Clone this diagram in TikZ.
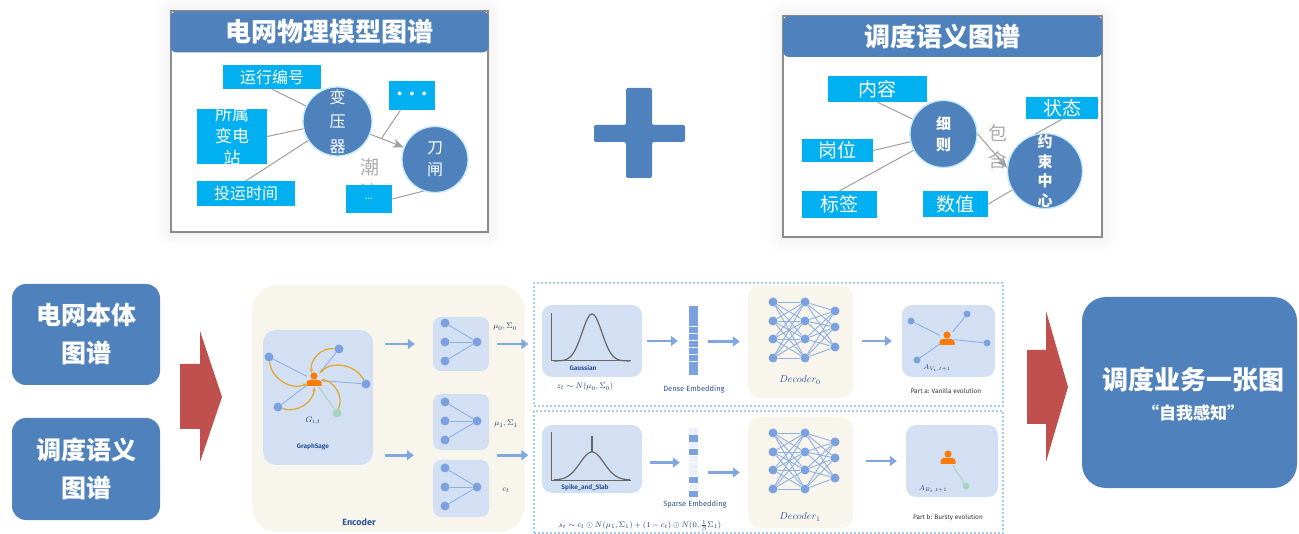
\documentclass[tikz,border=0pt]{standalone}
\usepackage{amsmath,amssymb}
\usepackage{fontspec}
\usetikzlibrary{positioning, arrows.meta, calc, shadows.blur}

\newfontfamily\cjk{Noto Sans CJK SC}
\setsansfont{Fira Sans}

\definecolor{panelblue}{HTML}{4F81BD}
\definecolor{tagcyan}{HTML}{00B0F0}
\definecolor{arrowred}{HTML}{C0504D}
\definecolor{beige}{HTML}{F8F5EC}
\definecolor{lightbox}{HTML}{D3E0F4}
\definecolor{dotblue}{HTML}{7BA2DE}
\definecolor{flowblue}{HTML}{80A7E1}
\definecolor{userorange}{HTML}{FA7A0A}
\definecolor{gold}{HTML}{E3A935}
\definecolor{mint}{HTML}{A6D3BC}
\definecolor{dashblue}{HTML}{A7CDEE}
\definecolor{labelblue}{HTML}{2E5597}
\definecolor{framegray}{HTML}{8C8C8C}

\tikzset{
  person/.pic={
    \fill[userorange] (0,-4) circle (3.6pt);
    \fill[userorange] (-7.5,6) [rounded corners=3pt] -- (-7.5,0) -- (7.5,0) [sharp corners] -- (7.5,6) -- cycle;
  }
}

\begin{document}
\begin{tikzpicture}[x=1pt, y=-1pt,
    titlebar/.style={fill=panelblue, rounded corners=6pt, text=white, inner sep=0pt,
      minimum height=41pt, font=\cjk\bfseries\fontsize{26}{28}\selectfont},
    frame/.style={draw=framegray, line width=1.1pt, fill=white,
      blur shadow={shadow xshift=0pt, shadow yshift=0pt, shadow blur radius=16pt, shadow opacity=10}},
    tag/.style={fill=tagcyan, text=white, inner sep=0pt, font=\cjk\fontsize{16}{18}\selectfont},
    tagb/.style={tag, font=\cjk\fontsize{19}{21}\selectfont},
    hub/.style={circle, fill=panelblue, draw=cyan!25!white, line width=1.3pt, text=white,
      inner sep=0pt, align=center, font=\cjk\fontsize{16}{24.5}\selectfont},
    link/.style={draw=gray!75, line width=1pt},
    bigbox/.style={fill=panelblue, rounded corners=14pt, text=white, align=center,
      font=\cjk\bfseries\fontsize{25}{38}\selectfont},
    beigebox/.style={fill=beige, rounded corners=12pt},
    lbox/.style={fill=lightbox, rounded corners=10pt},
    dashpanel/.style={draw=dashblue, line width=1.2pt, dash pattern=on 2pt off 2pt},
    dot/.style={circle, fill=dotblue, inner sep=0pt, minimum size=9pt},
    netline/.style={draw=dotblue!85, line width=0.9pt},
    flow/.style={draw=flowblue, line width=2.6pt, -{Triangle[length=7pt, width=10pt]}},
    curl/.style={draw=gold, line width=1.3pt, -{Stealth[length=4pt, width=4pt]}},
    mathlab/.style={text=labelblue!70!black, font=\fontsize{8}{9}\selectfont},
    smalllab/.style={text=black!80, font=\sffamily\fontsize{6.5}{7}\selectfont},
    boldlab/.style={text=labelblue, font=\sffamily\bfseries\fontsize{6.5}{7}\selectfont}]

\useasboundingbox (0,0) rectangle (1299,534);

% power grid physical model graph
\path[frame] (171,11) rectangle (488,232);
\node[titlebar, minimum width=318pt] (wlbar) at (329.5,32) {电网物理模型图谱};

\node[tag, minimum width=98pt, minimum height=24pt] (yxbh) at (272,77) {运行编号};
\node[tag, minimum width=70pt, minimum height=55pt] (sstz) at (232,136.5) {};
\node[text=white, align=center, inner sep=0pt, font=\cjk\fontsize{17}{22}\selectfont] (ssztxt) at (sstz) {所属\\变电\\站};
\node[tag, minimum width=98pt, minimum height=25pt] (tysj) at (246,193.5) {投运时间};
\node[hub, minimum size=69pt] (byq) at (337.5,121.5) {变\\压\\器};
\node[hub, minimum size=66pt, font=\cjk\fontsize{16}{22}\selectfont] (dz) at (435,159.5) {刀\\闸};
\node[text=gray!65, align=center, inner sep=0pt, font=\cjk\fontsize{19}{25}\selectfont] (cl) at (370,180) {潮\\流};
\node[tag, minimum width=46pt, minimum height=29pt, font=\fontsize{17}{17}\selectfont] (gd1) at (412,95.5) {\textbullet\textbullet\textbullet};
\node[tag, minimum width=46pt, minimum height=28pt, font=\fontsize{14}{14}\selectfont] (gd2) at (369,199) {\ldots};

\draw[link] (yxbh.south) -- (byq);
\draw[link] (sstz.east) -- (byq);
\draw[link] (tysj.north) -- (byq);
\draw[link, -{Stealth[length=11pt, width=9pt]}] (byq) -- (dz);
\draw[link] ($(gd1.south west)!0.25!(gd1.south east)$) -- ($(byq)!0.45!(dz)$);
\draw[link] (gd2.east) -- (dz.250);

% dispatch semantic graph
\path[frame] (783,16) rectangle (1102,237);
\node[titlebar, minimum width=319pt] (ddbar) at (942.5,36.5) {调度语义图谱};

\node[tagb, minimum width=99pt, minimum height=26pt] (nr) at (877.5,89) {内容};
\node[tagb, minimum width=71pt, minimum height=23pt] (gw) at (837.5,150.5) {岗位};
\node[tagb, minimum width=75pt, minimum height=27pt] (bq) at (839.5,204.5) {标签};
\node[tagb, minimum width=65pt, minimum height=26pt] (sz) at (955.5,204) {数值};
\node[text=gray!65, align=center, inner sep=0pt, font=\cjk\fontsize{19}{27}\selectfont] (bh) at (998,146.5) {包\\含};
\node[hub, minimum size=67pt, font=\cjk\bfseries\fontsize{15}{21}\selectfont] (xz) at (943.5,134) {细\\则};
\node[hub, minimum size=75pt] (ys) at (1045,171) {};
\node[text=white, align=center, inner sep=0pt, font=\cjk\bfseries\fontsize{15}{19.7}\selectfont] (ystxt) at (ys) {约\\束\\中\\心};
\node[tagb, minimum width=72pt, minimum height=22pt] (zt) at (1062,108) {状态};

\draw[link] (nr.south) -- (xz);
\draw[link] (gw.east) -- (xz);
\draw[link] (bq.north) -- (xz);
\draw[link] (sz.east) -- (ys);
\draw[link] (zt.south) -- (ys.105);
\draw[link, -{Stealth[length=11pt, width=9pt]}] (xz.east) -- (ys.175);

% plus sign
\fill[panelblue, rounded corners=2pt] (626,88) -- (652,88) -- (652,125) -- (685,125) -- (685,142)
  -- (652,142) -- (652,178) -- (626,178) -- (626,142) -- (594,142) -- (594,125) -- (626,125) -- cycle;

% inputs, big arrows and result
\node[bigbox, minimum width=148pt, minimum height=101pt] (dwbt) at (86,334.5) {电网本体\\图谱};
\node[bigbox, minimum width=148pt, minimum height=102pt] (ddyy) at (86,469) {调度语义\\图谱};
\fill[arrowred] (180,364) -- (200,364) -- (200,331) -- (222,397) -- (200,462) -- (200,429) -- (180,429) -- cycle;
\fill[arrowred] (1027,350) -- (1046,350) -- (1046,311) -- (1068,387) -- (1046,462) -- (1046,424) -- (1027,424) -- cycle;
\node[bigbox, minimum width=215pt, minimum height=191pt, rounded corners=24pt] (ddyw) at (1189.5,392.5) {};
\node[text=white, font=\cjk\bfseries\fontsize{26}{28}\selectfont] (ddywt) at (1193,380) {调度业务一张图};
\node[text=white, font=\cjk\bfseries\fontsize{17}{19}\selectfont] (zwgz) at (1193,413) {“自我感知”};

% encoder
\node[beigebox, minimum width=273pt, minimum height=247pt, rounded corners=26pt] (enc) at (388.5,408.5) {};
\node[text=labelblue, font=\sffamily\bfseries\fontsize{9}{9}\selectfont] (enclab) at (359,522) {Encoder};

\node[lbox, minimum width=110pt, minimum height=135pt, rounded corners=13pt] (gs) at (318,397.5) {};
\node[dot] (g1) at (269,357) {};
\node[dot] (g2) at (339,349) {};
\node[dot] (g3) at (366,384) {};
\node[dot] (g4) at (278,407) {};
\node[dot, fill=mint] (g5) at (337,413) {};
\node[inner sep=0pt, minimum size=14pt] (gc) at (314,380) {};
\foreach \n in {g1,g2,g3,g4}
  \draw[netline] (\n) -- (gc);
\draw[draw=mint, line width=1pt] (g5) -- (gc);
\foreach \n in {g1,g2,g3,g4,g5}
  \draw[curl] (\n) to[bend right=55] (gc);
\pic at (gc) {person};
\node[mathlab] (glab) at (313,421) {$G_{i,t}$};
\node[boldlab] (gslab) at (313,447) {GraphSage};

\node[lbox, minimum width=56pt, minimum height=54pt, rounded corners=8pt] (e1) at (461,344) {};
\node[lbox, minimum width=56pt, minimum height=56pt, rounded corners=8pt] (e2) at (461,422) {};
\node[lbox, minimum width=56pt, minimum height=57pt, rounded corners=8pt] (e3) at (461,488.5) {};
\foreach \k/\cy in {1/342, 2/421, 3/487} {
  \node[dot] (r\k) at (477,\cy) {};
  \foreach \d [count=\j] in {-19,0,19} {
    \node[dot] (l\k\j) at (445,\cy+\d) {};
    \draw[netline] (l\k\j) -- (r\k);
  }
}
\coordinate (e23) at ($(e2.west)!0.5!(e3.west)$);
\draw[flow, shorten <=12pt, shorten >=18pt] (gs.east |- e1) -- (e1.west);
\draw[flow, shorten <=12pt, shorten >=19pt] (gs.east |- e23) -- (e23);
\node[mathlab] (mu0) at (505,327) {$\mu_0,\Sigma_0$};
\node[mathlab] (mu1) at (506,424) {$\mu_1,\Sigma_1$};
\node[mathlab] (ct) at (506,490) {$c_t$};

% two evolution branches
\node[dashpanel, minimum width=469pt, minimum height=123pt] (pa) at (768.5,344.5) {};
\node[dashpanel, minimum width=469pt, minimum height=122pt] (pb) at (768.5,472) {};
\draw[flow, shorten <=8pt, shorten >=5pt] (e1.east) -- (e1.east -| pa.west);
\draw[flow, shorten <=8pt, shorten >=5pt] (e23 -| e2.east) -- (e23 -| pb.west);

% Gaussian prior
\node[lbox, minimum width=100pt, minimum height=72pt] (gau) at (592,341) {};
\draw[gray!80!black, line width=1pt] (551,313) -- (551,361) -- (631,361);
\draw[gray!80!black, line width=1.2pt] plot[domain=-38:38, samples=60] ({592+\x},{361-47*exp(-((\x/14)*(\x/14)))});
\node[boldlab] (gaulab) at (583,368) {Gaussian};
\node[mathlab] (zt) at (585,387) {$z_t\sim N(\mu_0,\Sigma_0)$};

% spike and slab prior
\node[lbox, minimum width=100pt, minimum height=68pt] (spk) at (592,459) {};
\draw[gray!80!black, line width=1pt] (551,432) -- (551,480) -- (631,480);
\draw[gray!80!black, line width=1.2pt] plot[domain=-38:38, samples=60] ({592+\x},{480-28*exp(-((\x/17)*(\x/17)))});
\draw[gray!80!black, line width=1.2pt] (592,452) -- (592,436);
\node[boldlab] (spklab) at (585,488) {Spike\_and\_Slab};
\node[mathlab] (st) at (640,526) {$s_t\sim c_t\odot N(\mu_1,\Sigma_1)+(1-c_t)\odot N(0,\frac{1}{\beta}\Sigma_1)$};

% embeddings
\node[inner sep=0pt, minimum width=9pt, minimum height=69pt] (de) at (693.5,340.5) {};
\foreach \i in {0,...,9}
  \fill[dotblue] (689,306.4+6.9*\i) rectangle (698,312.7+6.9*\i);
\node[smalllab, text=labelblue, font=\sffamily\fontsize{7.5}{8}\selectfont] (delab) at (694,389) {Dense Embedding};
\node[inner sep=0pt, minimum width=9pt, minimum height=69pt] (se) at (693.5,462.5) {};
\foreach \c [count=\i from 0] in {15,100,15,100,15,15,15,100,15,100}
  \fill[dotblue!\c!white] (689,428.4+6.9*\i) rectangle (698,434.7+6.9*\i);
\node[smalllab, text=labelblue, font=\sffamily\fontsize{7.5}{8}\selectfont] (selab) at (695,504) {Sparse Embedding};

\draw[flow, shorten <=5pt, shorten >=11pt] (gau.east) -- (de.west |- gau);
\draw[flow, shorten <=8pt, shorten >=9pt] (spk.east |- se) -- (se.west);

% decoders
\node[beigebox, minimum width=105pt, minimum height=113pt] (dec0) at (800.5,341.5) {};
\node[beigebox, minimum width=105pt, minimum height=111pt] (dec1) at (800.5,472.5) {};
\foreach \k/\dy in {0/0, 1/131} {
  \foreach \y [count=\i] in {302,321,339,358} {
    \node[dot] (a\k\i) at (773,\y+\dy) {};
    \node[dot] (b\k\i) at (805,\y+\dy) {};
  }
  \foreach \y [count=\i] in {311,327,347}
    \node[dot] (c\k\i) at (835,\y+\dy) {};
  \foreach \i in {1,...,4} {
    \foreach \j in {1,...,4}
      \draw[netline] (a\k\i) -- (b\k\j);
    \foreach \j in {1,2,3}
      \draw[netline] (b\k\i) -- (c\k\j);
  }
}
\node[text=labelblue, font=\fontsize{10}{10}\selectfont] (d0lab) at (800,380) {$Decoder_0$};
\node[text=labelblue, font=\fontsize{10}{10}\selectfont] (d1lab) at (800,517) {$Decoder_1$};

\draw[flow, shorten <=10pt, shorten >=8pt] (de.east |- dec0) -- (dec0.west);
\draw[flow, shorten <=10pt, shorten >=8pt] (se.east |- dec1) -- (dec1.west);

% evolved graphs
\node[lbox, minimum width=93pt, minimum height=72pt] (oa) at (948.5,341) {};
\node[dot, minimum size=7pt] (o1) at (911,321) {};
\node[dot, minimum size=7pt] (o2) at (967,314) {};
\node[dot, minimum size=7pt] (o3) at (987,343) {};
\node[dot, minimum size=7pt] (o4) at (917,360) {};
\node[inner sep=0pt, minimum size=14pt] (oc) at (947,339) {};
\foreach \n in {o1,o2,o3,o4}
  \draw[netline] (\n) -- (oc);
\pic at (oc) {person};
\node[mathlab, font=\fontsize{7}{8}\selectfont] (alab) at (937,368) {$A_{V_i,t+1}$};
\node[smalllab] (partA) at (946,391) {Part a: Vanilla evolution};

\node[lbox, minimum width=92pt, minimum height=72pt] (ob) at (952,461) {};
\node[dot, fill=mint, minimum size=7pt] (bn) at (966,486) {};
\node[inner sep=0pt, minimum size=14pt] (bc) at (948,458) {};
\draw[draw=mint, line width=1pt] (bn) -- (bc);
\pic at (bc) {person};
\node[mathlab, font=\fontsize{7}{8}\selectfont] (blab) at (933,489) {$A_{B_i,t+1}$};
\node[smalllab] (partB) at (948,518) {Part b: Bursty evolution};

\draw[flow, shorten <=9pt, shorten >=10pt] (dec0.east |- oa) -- (oa.west);
\draw[flow, shorten <=13pt, shorten >=9pt] (dec1.east |- ob) -- (ob.west);

\end{tikzpicture}
\end{document}
